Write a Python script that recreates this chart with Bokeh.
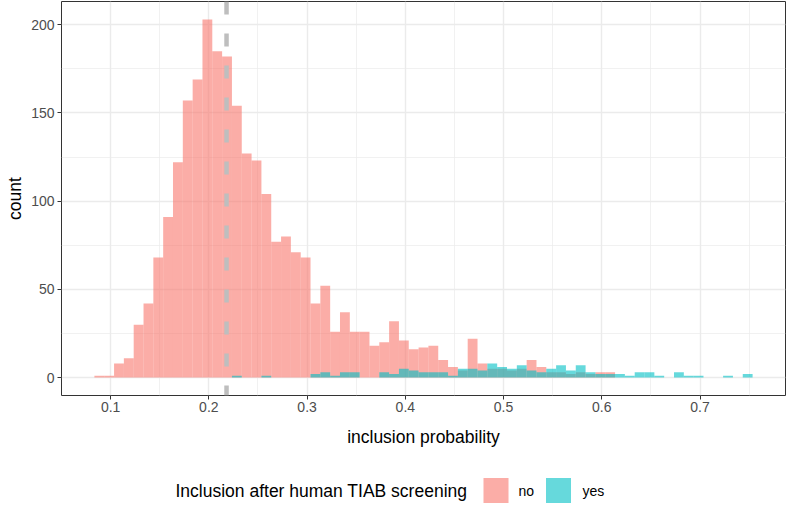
import numpy as np
from bokeh.plotting import figure
from bokeh.models import Range1d, FixedTicker, Span, ColumnDataSource
from bokeh.layouts import column
from bokeh.core.properties import value
from bokeh.embed import file_html
from bokeh.resources import INLINE

# ---------------- data ----------------
BIN_START = 0.0835
BIN_WIDTH = 0.01

count_no = [1, 1, 8, 11, 30, 42, 68, 91, 122, 157,
            169, 203, 185, 182, 154, 127, 123, 104, 77, 80,
            71, 68, 42, 52, 26, 37, 26, 26, 18, 20,
            32, 21, 16, 17, 18, 10, 6, 4, 22, 8,
            5, 5, 4, 5, 10, 6, 3, 3, 2, 3,
            2, 3, 3, 0, 0, 0, 0, 0, 0, 0,
            0, 0, 0, 0, 0, 0, 0]
count_yes = [0, 0, 0, 0, 0, 0, 0, 0, 0, 0,
             0, 0, 0, 0, 1, 0, 0, 1, 0, 0,
             0, 0, 2, 3, 1, 3, 3, 0, 0, 3,
             2, 5, 4, 3, 3, 3, 1, 5, 5, 4,
             8, 6, 5, 7, 4, 3, 5, 7, 4, 7,
             3, 2, 2, 2, 1, 3, 3, 1, 0, 3,
             1, 1, 0, 0, 1, 0, 2]
threshold = 0.218

x_ticks = [0.1, 0.2, 0.3, 0.4, 0.5, 0.6, 0.7]
x_minor = [0.05, 0.15, 0.25, 0.35, 0.45, 0.55, 0.65, 0.75]
y_ticks = [0, 50, 100, 150, 200]
y_minor = [25, 75, 125, 175]

group_labels = ["no", "yes"]
legend_title = "Inclusion after human TIAB screening"
x_title = "inclusion probability"
y_title = "count"

PINK = "#F8766D"
CYAN = "#00BFC4"
FONT = "Liberation Sans"

# ---------------- build ----------------
n = len(count_no)
left = BIN_START + BIN_WIDTH * np.arange(n)
right = left + BIN_WIDTH

src_no = ColumnDataSource(dict(left=left, right=right, top=count_no, bottom=[0] * n))
src_yes = ColumnDataSource(dict(left=left, right=right, top=count_yes, bottom=[0] * n))

lo = BIN_START
hi = BIN_START + BIN_WIDTH * n
xpad = 0.05 * (hi - lo)
ymax = max(max(count_no), max(count_yes))
ypad = 0.05 * ymax

W = 787
FL, FR = 61, 785   # frame left/right in canvas px
MAIN_H = 460
LEG_H = 48

p = figure(width=W, height=MAIN_H,
           x_range=Range1d(lo - xpad, hi + xpad),
           y_range=Range1d(-ypad, ymax + ypad),
           output_backend="svg", toolbar_location=None,
           min_border_left=FL, min_border_top=1, min_border_right=W - FR,
           min_border_bottom=65)

p.background_fill_color = "white"
p.border_fill_color = "white"
p.outline_line_color = "#333333"
p.outline_line_width = 1

p.xaxis.ticker = FixedTicker(ticks=x_ticks, minor_ticks=x_minor)
p.yaxis.ticker = FixedTicker(ticks=y_ticks, minor_ticks=y_minor)
p.xaxis.major_label_overrides = {t: f"{t:.1f}" for t in x_ticks}

for g in (p.xgrid, p.ygrid):
    g.grid_line_color = "#EBEBEB"
    g.grid_line_width = 1.4
    g.minor_grid_line_color = "#EBEBEB"
    g.minor_grid_line_width = 0.7

for ax in (p.xaxis, p.yaxis):
    ax.axis_line_color = None
    ax.major_tick_line_color = "#333333"
    ax.major_tick_out = 4
    ax.major_tick_in = 0
    ax.minor_tick_line_color = None
    ax.major_label_text_font = FONT
    ax.major_label_text_font_size = "14px"
    ax.major_label_text_color = "#4D4D4D"
    ax.axis_label_text_font = FONT
    ax.axis_label_text_font_size = "17.5px"
    ax.axis_label_text_font_style = "normal"
    ax.axis_label_text_color = "black"

p.xaxis.axis_label = x_title
p.yaxis.axis_label = y_title
p.xaxis.major_label_standoff = 2
p.xaxis.axis_label_standoff = 12
p.yaxis.major_label_standoff = 3
p.yaxis.axis_label_standoff = 3

p.quad(left="left", right="right", top="top", bottom="bottom", source=src_no,
       fill_color=PINK, fill_alpha=0.6, line_color=None)
p.quad(left="left", right="right", top="top", bottom="bottom", source=src_yes,
       fill_color=CYAN, fill_alpha=0.6, line_color=None)

p.add_layout(Span(location=threshold, dimension="height", line_color="#BEBEBE",
                  line_width=4.5, line_dash="13 19"))

# ---------------- legend strip ----------------
# the column aligns this strip's frame with the main frame, so its x range
# is expressed in page pixels
lg = figure(width=W, height=LEG_H, x_range=Range1d(FL, FR), y_range=Range1d(0, LEG_H),
            x_axis_type=None, y_axis_type=None, output_backend="svg",
            toolbar_location=None, min_border_left=FL, min_border_right=W - FR,
            min_border_top=0, min_border_bottom=0)
lg.outline_line_color = None
lg.xgrid.visible = False
lg.ygrid.visible = False
lg.background_fill_color = "white"
lg.border_fill_color = "white"

cy = 18
lg.text(x=[175], y=[cy], text=[legend_title], text_font=value(FONT),
        text_font_size="17.5px", text_baseline="middle", text_align="left",
        text_color="black")
lg.rect(x=[495.5, 558], y=[cy, cy], width=25, height=25,
        fill_color=[PINK, CYAN], fill_alpha=0.6, line_color=None)
lg.text(x=[518, 582], y=[cy, cy], text=group_labels, text_font=value(FONT),
        text_font_size="14px", text_baseline="middle", text_align="left",
        text_color="black")

layout = column(p, lg, spacing=0)
open("out.html", "w").write(file_html(layout, INLINE))
